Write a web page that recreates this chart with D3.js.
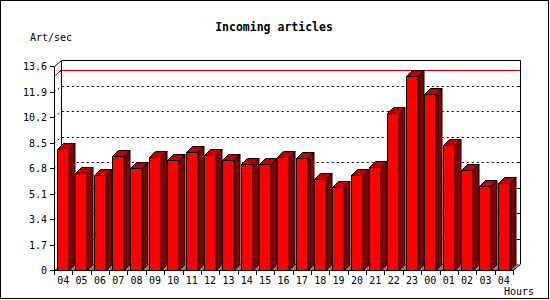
<!DOCTYPE html>
<html>
<head>
<meta charset="utf-8">
<script src="https://cdn.jsdelivr.net/npm/d3@7"></script>
<style>
  body { margin: 0; background: #fff; }
  text { font-family: 'DejaVu Sans Mono', monospace; }
</style>
</head>
<body>
<svg></svg>
<script>
const width = 550;
const height = 300;

// hours along the bottom, one bar per hour
const hours = ['04', '05', '06', '07', '08', '09', '10', '11', '12', '13', '14', '15', '16',
               '17', '18', '19', '20', '21', '22', '23', '00', '01', '02', '03', '04'];

// articles per second
const rates = [8.07, 6.45, 6.31, 7.6, 6.78, 7.51, 7.31, 7.84, 7.64, 7.31, 7.04, 7.04, 7.51,
               7.44, 6.04, 5.51, 6.33, 6.84, 10.44, 12.96, 11.71, 8.31, 6.64, 5.58, 5.78];

const yTicks = [0, 1.7, 3.4, 5.1, 6.8, 8.5, 10.2, 11.9, 13.6];

const bars = hours.map((h, i) => ({ key: i, hour: h, value: rates[i] }));

const svg = d3.select('svg')
              .attr('width', width)
              .attr('height', height);

// offset of the back wall from the front of the chart
const depth = { x: 7, y: -6 };
// bars are a little shallower
const barDepth = 6;

const x = d3.scaleBand()
            .domain(bars.map(d => d.key))
            .range([54, 513]);

const y = d3.scaleLinear()
            .domain([0, 13.6])
            .range([270, 66]);

const colors = { front: '#ff0000', side: '#800000', top: '#c00000', floor: '#808080' };

// outer frame
svg.append('rect')
   .attr('x', 0.5).attr('y', 0.5)
   .attr('width', width - 2).attr('height', height - 2)
   .attr('fill', '#fff')
   .attr('stroke', '#000');

// titles
svg.append('text')
   .attr('x', 274).attr('y', 31)
   .attr('text-anchor', 'middle')
   .attr('font-size', 11.5)
   .attr('font-weight', 'bold')
   .text('Incoming articles');

svg.append('text')
   .attr('x', 30).attr('y', 40.5)
   .attr('font-size', 10)
   .text('Art/sec');

svg.append('text')
   .attr('x', 504).attr('y', 295)
   .attr('font-size', 10)
   .text('Hours');

const backLeft = x.range()[0] + depth.x;
const backRight = x.range()[1] + depth.x;

// dotted grid, going from the front axis back and across the back wall
const grid = svg.append('g')
                .attr('fill', 'none')
                .attr('stroke', '#000')
                .attr('stroke-dasharray', '2,3');

yTicks.filter(t => t > 0 && t < 13.6).forEach(t => {
  const gy = Math.round(y(t)) + 0.5;
  grid.append('path')
      .attr('d', `M${x.range()[0]},${gy} L${backLeft},${gy + depth.y} L${backRight},${gy + depth.y}`);
});

// small ticks on the right side of the back wall
svg.selectAll('line.rtick')
   .data(yTicks.filter(t => t > 0 && t < 13.6))
   .enter()
   .append('line')
     .attr('x1', backRight - 2).attr('x2', backRight)
     .attr('y1', d => Math.round(y(d)) + depth.y + 0.5)
     .attr('y2', d => Math.round(y(d)) + depth.y + 0.5)
     .attr('stroke', '#000');

// line at the highest value
const maxY = Math.round(y(d3.max(rates))) + 0.5;
svg.append('path')
   .attr('d', `M${x.range()[0]},${maxY} L${backLeft},${maxY + depth.y} L${backRight},${maxY + depth.y}`)
   .attr('fill', 'none')
   .attr('stroke', '#cc0000')
   .attr('shape-rendering', 'crispEdges');

// back wall frame
svg.append('path')
   .attr('d', `M${backLeft + 0.5},${y(0) + depth.y} V${y(13.6) + depth.y + 0.5} H${backRight + 0.5} V${y(0) + depth.y}`)
   .attr('fill', 'none')
   .attr('stroke', '#000');

// floor
svg.append('path')
   .attr('d', `M${x.range()[0]},${y(0)} L${backLeft},${y(0) + depth.y} L${backRight},${y(0) + depth.y} L${x.range()[1]},${y(0)} Z`)
   .attr('fill', colors.floor);

// bars: side, top and front face
const barWidth = 11.5;
const barGroups = svg.selectAll('g.bar')
                     .data(bars)
                     .enter()
                     .append('g')
                       .attr('class', 'bar')
                       .attr('stroke', '#000')
                       .attr('stroke-width', 1);

const bx = d => Math.round(x(d.key) + 3) + 0.5;
const by = d => Math.round(y(d.value)) + 0.5;
const b0 = Math.round(y(0)) + 0.5;

barGroups.append('path')
         .attr('fill', colors.side)
         .attr('d', d => {
           const r = bx(d) + barWidth;
           return `M${r},${b0} L${r},${by(d)} L${r + barDepth},${by(d) - barDepth} L${r + barDepth},${b0 - barDepth} Z`;
         });

barGroups.append('path')
         .attr('fill', colors.top)
         .attr('d', d => {
           const l = bx(d);
           const r = l + barWidth;
           return `M${l},${by(d)} L${l + barDepth},${by(d) - barDepth} L${r + barDepth},${by(d) - barDepth} L${r},${by(d)} Z`;
         });

barGroups.append('rect')
         .attr('fill', colors.front)
         .attr('x', d => bx(d))
         .attr('y', d => by(d))
         .attr('width', barWidth)
         .attr('height', d => b0 - by(d));

// front axes
const axes = svg.append('g')
                .attr('fill', 'none')
                .attr('stroke', '#000');

axes.append('path')
    .attr('d', `M${backLeft + 0.5},${y(13.6) + depth.y + 0.5} L${x.range()[0] + 0.5},${y(13.6) + 0.5} V${y(0) + 0.5} H${x.range()[1]} L${backRight + 0.5},${y(0) + depth.y + 0.5}`);

// left ticks and labels
axes.selectAll('line.ytick')
    .data(yTicks)
    .enter()
    .append('line')
      .attr('x1', x.range()[0] - 4).attr('x2', x.range()[0])
      .attr('y1', d => Math.round(y(d)) + 0.5)
      .attr('y2', d => Math.round(y(d)) + 0.5);

svg.selectAll('text.ylabel')
   .data(yTicks)
   .enter()
   .append('text')
     .attr('x', 47)
     .attr('y', d => y(d) + 4)
     .attr('text-anchor', 'end')
     .attr('font-size', 10)
     .text(d => d);

// bottom ticks at the band edges, labels in the middle
const edges = bars.map(d => x(d.key)).concat([x.range()[1]]);
axes.selectAll('line.xtick')
    .data(edges)
    .enter()
    .append('line')
      .attr('x1', d => Math.round(d) + 0.5).attr('x2', d => Math.round(d) + 0.5)
      .attr('y1', y(0)).attr('y2', y(0) + 5);

svg.selectAll('text.xlabel')
   .data(bars)
   .enter()
   .append('text')
     .attr('x', d => x(d.key) + x.bandwidth() / 2)
     .attr('y', 283.5)
     .attr('text-anchor', 'middle')
     .attr('font-size', 10)
     .text(d => d.hour);
</script>
</body>
</html>
